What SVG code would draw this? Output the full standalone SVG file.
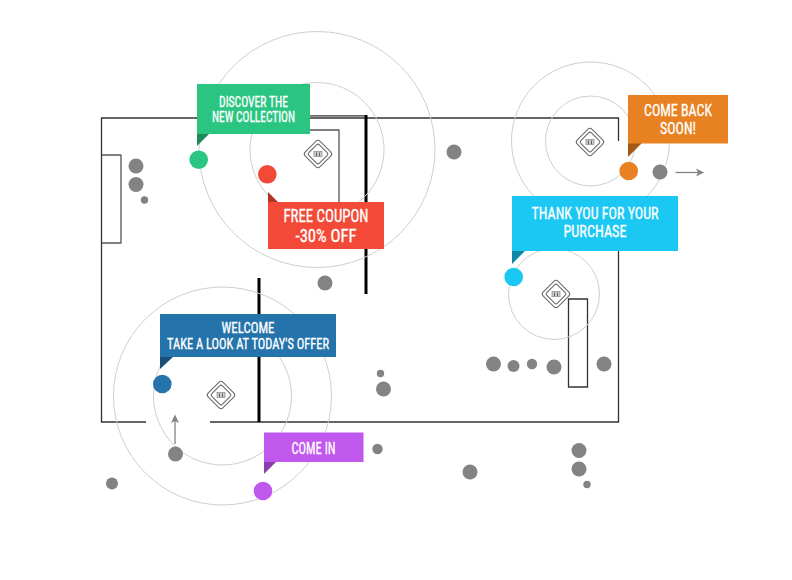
<svg xmlns="http://www.w3.org/2000/svg" width="792" height="580" viewBox="0 0 792 580">
<style>
.ring{fill:none;stroke:#cfcfcf;stroke-width:1}
.wall{fill:none;stroke:#333;stroke-width:1.3}
.thick{fill:none;stroke:#000;stroke-width:3}
.fix{fill:none;stroke:#555;stroke-width:1.3;stroke-linejoin:round}
.p{fill:#838383}
.arr{fill:none;stroke:#838383;stroke-width:1.3}
.head{fill:#838383}
.t{font-family:"Liberation Sans Narrow","Roboto Condensed","Liberation Sans",sans-serif;fill:#fff;text-anchor:middle;stroke:#fff;stroke-width:.3}
.bd{fill:none;stroke:#666;stroke-width:1}
</style>
<defs>
<g id="beacon">
<rect x="-10.500" y="-10.500" width="21" height="21" rx="3" class="bd" transform="rotate(45)"/>
<rect x="-7.500" y="-7.500" width="15" height="15" rx="2" class="bd" transform="rotate(45)"/>
<rect x="-4" y="-2.500" width="8" height="5" fill="#ccc" stroke="#777" stroke-width=".6"/>
<path d="M-1.500-1.500V2M1.500-1.500V2" stroke="#444" stroke-width=".8" fill="none"/>
</g>
</defs>
<rect width="792" height="580" fill="#fff"/>
<g id="plan">
<path class="wall" d="M618.500 141V118H101.500V422H146M210 422H618.500V251"/>
<path class="wall" d="M310 115.800H366"/>
<path class="fix" d="M310 130H339V205"/>
<path class="fix" d="M101.500 155H121V243H101.500"/>
<path class="wall" d="M568.500 299H587.500V387H568.500Z"/>
<path class="thick" d="M366 115V294M259 278V422"/>
</g>
<g id="rings">
<circle class="ring" cx="317" cy="149.500" r="118"/><circle class="ring" cx="317" cy="149.500" r="67"/>
<circle class="ring" cx="590.500" cy="141" r="79"/><circle class="ring" cx="590.500" cy="141" r="45"/>
<circle class="ring" cx="554" cy="294" r="45.500"/>
<circle class="ring" cx="222.500" cy="396" r="109"/><circle class="ring" cx="222.500" cy="396" r="69"/>
</g>
<g id="beacon-1"><use href="#beacon" x="318" y="154"/></g>
<g id="beacon-2"><use href="#beacon" x="590" y="142"/></g>
<g id="beacon-3"><use href="#beacon" x="556" y="294"/></g>
<g id="beacon-4"><use href="#beacon" x="221" y="395"/></g>
<g id="people">
<circle class="p" cx="136" cy="166" r="7.500"/><circle class="p" cx="136" cy="184.500" r="7.500"/><circle class="p" cx="144.500" cy="200" r="3.700"/>
<circle class="p" cx="454" cy="152" r="7.500"/><circle class="p" cx="325" cy="283" r="7.500"/><circle class="p" cx="660" cy="172" r="7.500"/>
<circle class="p" cx="493.500" cy="364" r="7.500"/><circle class="p" cx="513.500" cy="366" r="6"/><circle class="p" cx="532" cy="364" r="5.200"/><circle class="p" cx="554" cy="367" r="7.500"/><circle class="p" cx="604" cy="364" r="7.500"/>
<circle class="p" cx="380.500" cy="373.500" r="3.700"/><circle class="p" cx="383.500" cy="389" r="7.500"/><circle class="p" cx="377.500" cy="449" r="5.200"/>
<circle class="p" cx="175.500" cy="454" r="7.500"/><circle class="p" cx="112" cy="483.500" r="6"/><circle class="p" cx="470" cy="472" r="7.500"/>
<circle class="p" cx="579" cy="450.500" r="7.500"/><circle class="p" cx="579" cy="469" r="7.500"/><circle class="p" cx="587" cy="484.500" r="3.700"/>
</g>
<g id="connectors">
<path class="arr" d="M675.500 172.500H698"/><path class="head" d="M704 172.500L696 168.500L698 172.500L696 176.500Z"/>
<path class="arr" d="M175 444V421"/><path class="head" d="M175 414.500L171 423L175 421L179 423Z"/>
</g>
<g id="msg-discover">
<circle cx="198.700" cy="159.700" r="9.300" fill="#2ac581"/>
<path d="M197 134H209L197 146Z" fill="#1f8a5b"/>
<rect x="197" y="84" width="113" height="50" fill="#2ac581"/>
<text class="t" font-size="14" x="253.500" y="107" textLength="69" lengthAdjust="spacingAndGlyphs">DISCOVER THE</text>
<text class="t" font-size="14" x="253.500" y="122" textLength="83" lengthAdjust="spacingAndGlyphs">NEW COLLECTION</text>
</g>
<g id="msg-coupon">
<circle cx="267.300" cy="174.300" r="9.300" fill="#f24a37"/>
<path d="M268 192V202H278Z" fill="#b03526"/>
<rect x="268" y="202" width="116" height="47" fill="#f24a37"/>
<text class="t" font-size="18" x="326" y="222" textLength="85" lengthAdjust="spacingAndGlyphs">FREE COUPON</text>
<text class="t" font-size="18" x="326" y="242" textLength="61" lengthAdjust="spacingAndGlyphs">-30% OFF</text>
</g>
<g id="msg-comeback">
<circle cx="628.700" cy="171" r="9.300" fill="#e78122"/>
<path d="M628 143H642L628 157Z" fill="#a35a16"/>
<rect x="628" y="95" width="100" height="48.500" fill="#e78122"/>
<text class="t" font-size="16.500" x="678" y="116" textLength="68" lengthAdjust="spacingAndGlyphs">COME BACK</text>
<text class="t" font-size="16.500" x="678" y="134" textLength="36" lengthAdjust="spacingAndGlyphs">SOON!</text>
</g>
<g id="msg-thanks">
<circle cx="513.700" cy="277" r="9.300" fill="#1bc8f3"/>
<path d="M512 251H525L512 264Z" fill="#0e87a8"/>
<rect x="512" y="196" width="166" height="55" fill="#1bc8f3"/>
<text class="t" font-size="16.500" x="595" y="219" textLength="127" lengthAdjust="spacingAndGlyphs">THANK YOU FOR YOUR</text>
<text class="t" font-size="16.500" x="595" y="237" textLength="63" lengthAdjust="spacingAndGlyphs">PURCHASE</text>
</g>
<g id="msg-welcome">
<circle cx="162.300" cy="384" r="9.300" fill="#2473aa"/>
<path d="M160 357H173L160 369Z" fill="#184f75"/>
<rect x="160" y="314" width="176" height="43" fill="#2473aa"/>
<text class="t" font-size="14.500" x="248" y="333" textLength="53" lengthAdjust="spacingAndGlyphs">WELCOME</text>
<text class="t" font-size="14.500" x="248" y="349" textLength="162" lengthAdjust="spacingAndGlyphs">TAKE A LOOK AT TODAY'S OFFER</text>
</g>
<g id="msg-comein">
<circle cx="263" cy="491" r="9.300" fill="#c058ee"/>
<path d="M264 462H276L264 474Z" fill="#8c3fae"/>
<rect x="264" y="432.500" width="99.500" height="29.500" fill="#c058ee"/>
<text class="t" font-size="16" x="313.500" y="454" textLength="44" lengthAdjust="spacingAndGlyphs">COME IN</text>
</g>
</svg>
